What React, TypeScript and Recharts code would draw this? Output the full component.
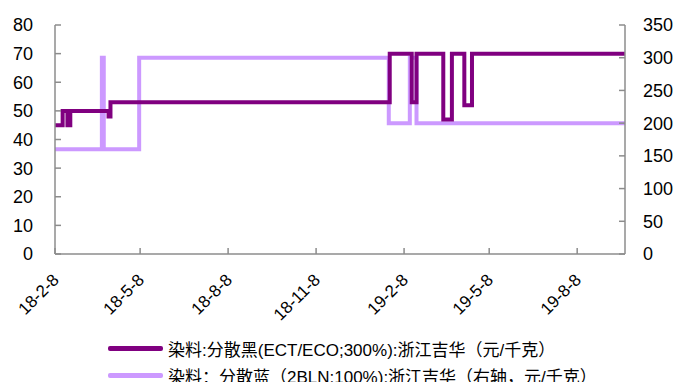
import { LineChart, Line, XAxis, YAxis } from 'recharts';

// change points (stepAfter between them)
const blackDates = [
  '2018-02-08', '2018-02-16', '2018-02-21', '2018-02-24', '2018-04-05', '2018-04-07',
  '2019-01-24', '2019-02-16', '2019-02-21', '2019-03-21', '2019-03-30', '2019-04-12',
  '2019-04-20', '2019-09-27',
];
const blackValues = [45, 50, 45, 50, 48, 53, 70, 53, 70, 47, 70, 52, 70, 70];

const blueDates = [
  '2018-02-08', '2018-03-29', '2018-03-31', '2018-05-07', '2019-01-23', '2019-02-14',
  '2019-02-21', '2019-09-27',
];
const blueValues = [160, 300, 160, 300, 200, 300, 200, 200];

const tickDates = ['2018-02-08', '2018-05-08', '2018-08-08', '2018-11-08', '2019-02-08', '2019-05-08', '2019-08-08'];
const leftTicks = [0, 10, 20, 30, 40, 50, 60, 70, 80];
const rightTicks = [0, 50, 100, 150, 200, 250, 300, 350];

const seriesNames = [
  '染料:分散黑(ECT/ECO;300%):浙江吉华（元/千克）',
  '染料：分散蓝（2BLN:100%):浙江吉华（右轴，元/千克）',
];
const colors = ['#800080', '#CC99FF'];

const DAY = 86400000;
const toDay = (s: string) => {
  const [y, m, d] = s.split('-').map(Number);
  return Date.UTC(y, m - 1, d) / DAY;
};
const fmtDay = (v: number) => {
  const dt = new Date(v * DAY);
  return `${String(dt.getUTCFullYear()).slice(2)}-${dt.getUTCMonth() + 1}-${dt.getUTCDate()}`;
};

const blackData = blackDates.map((d, i) => ({ t: toDay(d), v: blackValues[i] }));
const blueData = blueDates.map((d, i) => ({ t: toDay(d), v: blueValues[i] }));

const FONT = '"Liberation Sans", Arial, "Noto Sans CJK SC", sans-serif';
const AXIS = '#8c8c8c';

const LeftTick = (p: any) => (
  <g>
    <line x1={p.x + 22} x2={p.x + 28} y1={p.y} y2={p.y} stroke={AXIS} strokeWidth={1.5} />
    <text x={p.x} y={p.y} dy="0.36em" textAnchor="end" fontSize={18} fill="#000" fontFamily={FONT}>
      {p.payload.value}
    </text>
  </g>
);

const RightTick = (p: any) => (
  <g>
    <line x1={p.x - 18} x2={p.x - 24} y1={p.y} y2={p.y} stroke={AXIS} strokeWidth={1.5} />
    <text x={p.x} y={p.y} dy="0.36em" textAnchor="start" fontSize={18} fill="#000" fontFamily={FONT}>
      {p.payload.value}
    </text>
  </g>
);

const BottomTick = (p: any) => (
  <g>
    <line x1={p.x} x2={p.x} y1={p.y} y2={p.y - 6} stroke={AXIS} strokeWidth={1.5} />
    <text
      transform={`translate(${p.x + 5},${p.y + 27}) rotate(-45)`}
      textAnchor="end"
      fontSize={17}
      fill="#000"
      fontFamily={FONT}
    >
      {fmtDay(p.payload.value)}
    </text>
  </g>
);

export default function App() {
  return (
    <div style={{ position: 'absolute', left: 0, top: 0, width: 675, height: 382, background: '#fff', overflow: 'hidden' }}>
      <LineChart width={675} height={382} margin={{ top: 25, right: 0, bottom: 68, left: 0 }}>
        <XAxis
          dataKey="t"
          type="number"
          domain={[toDay('2018-02-08'), toDay('2019-09-27')]}
          ticks={tickDates.map(toDay)}
          allowDataOverflow
          height={60}
          tickSize={0}
          tickMargin={0}
          tickLine={false}
          axisLine={{ stroke: AXIS, strokeWidth: 1.5 }}
          tick={<BottomTick />}
          interval={0}
        />
        <YAxis
          yAxisId="left"
          orientation="left"
          domain={[0, 80]}
          ticks={leftTicks}
          width={55}
          tickSize={0}
          tickMargin={22}
          tickLine={false}
          axisLine={{ stroke: AXIS, strokeWidth: 1.5 }}
          tick={<LeftTick />}
          interval={0}
        />
        <YAxis
          yAxisId="right"
          orientation="right"
          domain={[0, 350]}
          ticks={rightTicks}
          width={50}
          tickSize={0}
          tickMargin={18}
          tickLine={false}
          axisLine={{ stroke: AXIS, strokeWidth: 1.5 }}
          tick={<RightTick />}
          interval={0}
        />
        <Line
          yAxisId="right"
          data={blueData}
          dataKey="v"
          type="stepAfter"
          stroke={colors[1]}
          strokeWidth={4}
          dot={false}
          isAnimationActive={false}
        />
        <Line
          yAxisId="left"
          data={blackData}
          dataKey="v"
          type="stepAfter"
          stroke={colors[0]}
          strokeWidth={4}
          dot={false}
          isAnimationActive={false}
        />
      </LineChart>
      <div style={{ position: 'absolute', left: 108, top: 335, fontFamily: FONT, fontSize: 17, color: '#000' }}>
        {seriesNames.map((name, i) => (
          <div key={name} style={{ display: 'flex', alignItems: 'center', height: 27, whiteSpace: 'nowrap' }}>
            <div style={{ width: 55, height: 5, background: colors[i], marginRight: 5, borderRadius: 2 }} />
            <span>{name}</span>
          </div>
        ))}
      </div>
    </div>
  );
}
